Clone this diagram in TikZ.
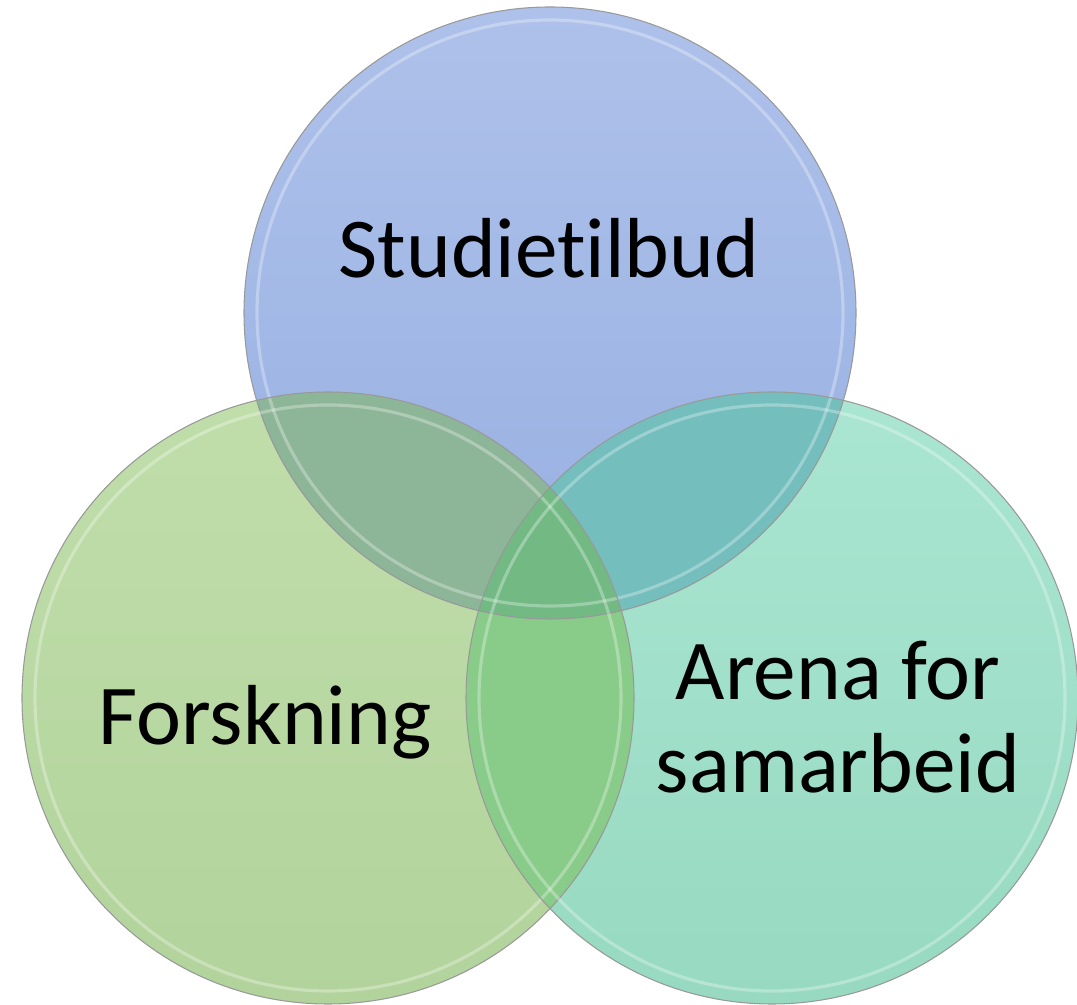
\documentclass[tikz,border=0pt]{standalone}
\usepackage{fontspec}
\setmainfont{Carlito}[Ligatures=NoCommon]
\usetikzlibrary{positioning}

\definecolor{studietop}{HTML}{AEC1EA}
\definecolor{studiebot}{HTML}{97B0E2}
\definecolor{forsktop}{HTML}{C0DEAA}
\definecolor{forskbot}{HTML}{B2D39C}
\definecolor{arenatop}{HTML}{AAE6D2}
\definecolor{arenabot}{HTML}{97D9C1}
\definecolor{studieforsk}{HTML}{8DB597}
\definecolor{studiearena}{HTML}{74BEBE}
\definecolor{forskarena}{HTML}{89CB89}
\definecolor{allthree}{HTML}{72B984}

\begin{document}
\begin{tikzpicture}[
    rim/.style={draw=black!40, line width=0.6pt},
    glow/.style={draw=white, line width=1.8pt, draw opacity=0.3},
    circlelabel/.style={font=\fontsize{48.5}{53}\selectfont, align=center, text=black}
  ]
  \def\r{6.12}
  \useasboundingbox (0,0) rectangle (21.54,20.10);
  \coordinate (top) at (11.00,13.84);
  \coordinate (left) at (6.56,6.14);
  \coordinate (right) at (15.44,6.14);

  % the three discs
  \shade[top color=studietop, bottom color=studiebot] (top) circle[radius=\r];
  \shade[top color=forsktop, bottom color=forskbot] (left) circle[radius=\r];
  \shade[top color=arenatop, bottom color=arenabot] (right) circle[radius=\r];

  % overlaps
  \begin{scope}
    \clip (left) circle[radius=\r];
    \fill[forskarena] (right) circle[radius=\r];
  \end{scope}
  \begin{scope}
    \clip (top) circle[radius=\r];
    \fill[studieforsk] (left) circle[radius=\r];
    \fill[studiearena] (right) circle[radius=\r];
    \clip (left) circle[radius=\r];
    \fill[allthree] (right) circle[radius=\r];
  \end{scope}

  % edges
  \foreach \c in {top,left,right}{
    \draw[glow] (\c) circle[radius=\r-0.26];
    \draw[rim] (\c) circle[radius=\r];
  }

  \node[circlelabel, anchor=base] (studie) at (10.98,14.54) {Studietilbud};
  \node[circlelabel, anchor=base] (forsk) at (5.30,5.20) {Forskning};
  \node[circlelabel] (arena) at (16.76,5.76) {Arena for\\samarbeid};
\end{tikzpicture}
\end{document}
